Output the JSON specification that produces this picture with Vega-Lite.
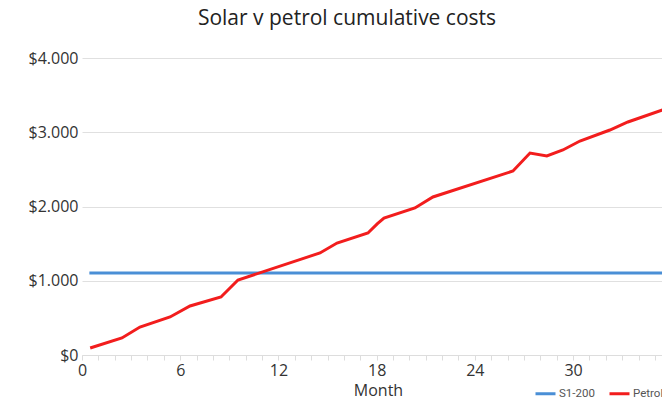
{
  "$schema": "https://vega.github.io/schema/vega-lite/v6.json",
  "autosize": "none",
  "padding": {"left": 82, "top": 58, "right": 0, "bottom": 46},
  "width": 622,
  "height": 297,
  "background": "white",
  "title": {
    "text": "Solar v petrol cumulative costs",
    "font": "Open Sans",
    "fontSize": 21,
    "fontWeight": "normal",
    "color": "#222222",
    "dx": -46,
    "offset": 21
  },
  "config": {
    "view": {"stroke": null},
    "font": "Open Sans"
  },
  "data": {
    "values": [
      {"series": "S1-200", "month": 0.45, "cost": 1104},
      {"series": "S1-200", "month": 38, "cost": 1104},
      {"series": "Petrol", "month": 0.5, "cost": 94},
      {"series": "Petrol", "month": 2.44, "cost": 229},
      {"series": "Petrol", "month": 3.54, "cost": 377},
      {"series": "Petrol", "month": 5.38, "cost": 512},
      {"series": "Petrol", "month": 6.6, "cost": 660},
      {"series": "Petrol", "month": 8.49, "cost": 781},
      {"series": "Petrol", "month": 9.53, "cost": 1010},
      {"series": "Petrol", "month": 14.54, "cost": 1374},
      {"series": "Petrol", "month": 15.58, "cost": 1508},
      {"series": "Petrol", "month": 17.47, "cost": 1643},
      {"series": "Petrol", "month": 18.05, "cost": 1770},
      {"series": "Petrol", "month": 18.45, "cost": 1845},
      {"series": "Petrol", "month": 20.34, "cost": 1980},
      {"series": "Petrol", "month": 21.44, "cost": 2128},
      {"series": "Petrol", "month": 26.33, "cost": 2478},
      {"series": "Petrol", "month": 27.37, "cost": 2720},
      {"series": "Petrol", "month": 28.4, "cost": 2680},
      {"series": "Petrol", "month": 29.38, "cost": 2761},
      {"series": "Petrol", "month": 30.42, "cost": 2882},
      {"series": "Petrol", "month": 32.25, "cost": 3030},
      {"series": "Petrol", "month": 33.35, "cost": 3138},
      {"series": "Petrol", "month": 36, "cost": 3340}
    ]
  },
  "mark": {"type": "line", "strokeWidth": 3, "interpolate": "linear"},
  "encoding": {
    "x": {
      "field": "month",
      "type": "quantitative",
      "scale": {"domain": [0, 38], "nice": false, "zero": true},
      "axis": {
        "title": "Month",
        "titleFont": "Open Sans",
        "titleFontSize": 16,
        "titleFontWeight": "normal",
        "titleColor": "#333333",
        "titleX": 296,
        "titleY": 27,
        "titleAlign": "center",
        "titleBaseline": "top",
        "values": [0,1,2,3,4,5,6,7,8,9,10,11,12,13,14,15,16,17,18,19,20,21,22,23,24,25,26,27,28,29,30,31,32,33,34,35,36,37,38],
        "labelExpr": "datum.value % 6 == 0 ? datum.value : ''",
        "labelFont": "Open Sans",
        "labelFontSize": 16,
        "labelColor": "#333333",
        "labelPadding": 2,
        "labelFlush": false,
        "labelOverlap": false,
        "grid": false,
        "domainColor": "#dddddd",
        "tickColor": "#dddddd",
        "tickSize": 5
      }
    },
    "y": {
      "field": "cost",
      "type": "quantitative",
      "scale": {"domain": [0, 4000], "nice": false},
      "axis": {
        "title": null,
        "values": [0, 1000, 2000, 3000, 4000],
        "labelExpr": "'$' + replace(format(datum.value, ','), ',', '.')",
        "labelFont": "Open Sans",
        "labelFontSize": 16,
        "labelColor": "#333333",
        "labelPadding": 4,
        "domain": false,
        "ticks": false,
        "gridColor": "#e0e0e0",
        "gridWidth": 1
      }
    },
    "color": {
      "field": "series",
      "type": "nominal",
      "scale": {"domain": ["S1-200", "Petrol"], "range": ["#4a8fd6", "#f21d1d"]},
      "legend": {
        "title": null,
        "orient": "none",
        "legendX": 452,
        "legendY": 324,
        "direction": "horizontal",
        "symbolType": "stroke",
        "symbolSize": 400,
        "symbolStrokeWidth": 3,
        "labelFont": "Roboto",
        "labelFontSize": 11.5,
        "labelColor": "#555555",
        "labelOffset": 2,
        "columnPadding": 8
      }
    }
  }
}
